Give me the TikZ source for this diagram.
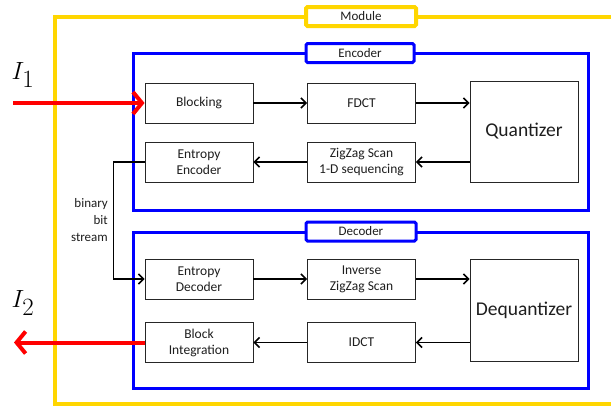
\documentclass[tikz,border=0pt]{standalone}
\usepackage{fontspec}
\setmainfont{Carlito}
\usetikzlibrary{arrows.meta}
\definecolor{modyellow}{RGB}{255,214,0}
\definecolor{encblue}{RGB}{0,0,255}
\definecolor{inred}{RGB}{255,0,0}
\definecolor{txt}{RGB}{30,30,30}
\tikzset{
  blk/.style={draw=black!85, line width=0.9pt, minimum width=108pt, minimum height=40pt, align=center, font=\fontsize{13.5}{16}\selectfont, text=txt, inner sep=0pt},
  bigblk/.style={blk, minimum height=101pt, font=\fontsize{19.5}{21}\selectfont},
  flow/.style={line width=1.6pt, black, -{Straight Barb[length=5pt,width=10pt,line width=1.6pt]}},
  redflow/.style={line width=4pt, inred, -{Straight Barb[length=9pt,width=22pt,line width=4pt]}},
  framebox/.style={line width=3pt, encblue},
  tagbox/.style={fill=white, rounded corners=1.5pt, minimum height=19pt, inner sep=0pt, font=\fontsize{13}{14}\selectfont, text=txt},
  iolabel/.style={font=\fontsize{38}{38}\selectfont, inner sep=0pt}
}
\begin{document}
\begin{tikzpicture}[x=1pt,y=-1pt]
\clip (0,0) rectangle (611,408);
\fill[white] (0,0) rectangle (611,408);
% module frame
\draw[line width=4pt, modyellow] (625,17) -- (55,17) -- (55,404) -- (625,404);
\node[tagbox, draw=modyellow, line width=4pt, minimum width=110pt] (modtag) at (361,16.5) {Module};
% encoder / decoder frames
\draw[framebox] (133,53) rectangle (588,210);
\node[tagbox, draw=encblue, line width=3pt, minimum width=108pt] (enctag) at (360,53) {Encoder};
\draw[framebox] (133,232) rectangle (588,388);
\node[tagbox, draw=encblue, line width=3pt, minimum width=110pt] (dectag) at (361,231.5) {Decoder};
% encoder blocks
\node[blk] (blocking) at (199,103) {Blocking};
\node[blk] (fdct) at (361.5,103) {FDCT};
\node[bigblk] (quant) at (524,131.5) {Quantizer};
\node[blk] (entenc) at (199,162) {Entropy\\Encoder};
\node[blk] (zigzag) at (361.5,162) {ZigZag Scan\\1-D sequencing};
% decoder blocks
\node[blk] (entdec) at (199,279) {Entropy\\Decoder};
\node[blk] (invzz) at (361.5,279) {Inverse\\ZigZag Scan};
\node[bigblk, minimum height=102pt] (dequant) at (524,310) {Dequantizer};
\node[blk] (blkint) at (199,342.5) {Block\\Integration};
\node[blk] (idct) at (361.5,342.5) {IDCT};
% encoder flow
\draw[flow] (blocking.east) -- (fdct.west);
\draw[flow] (fdct.east) -- (quant.west |- fdct.east);
\draw[flow] (quant.west |- zigzag.east) -- (zigzag.east);
\draw[flow] (zigzag.west) -- (entenc.east);
% bit stream
\draw[flow] (entenc.west) -- ++(-31,0) |- (entdec.west);
\node[align=right, anchor=east, font=\fontsize{13}{17}\selectfont, text=txt, inner sep=0pt] (bits) at (108,220) {binary\\bit\\stream};
% decoder flow
\draw[flow] (entdec.east) -- (invzz.west);
\draw[flow] (invzz.east) -- (dequant.west |- invzz.east);
\draw[flow] (dequant.west |- idct.east) -- (idct.east);
\draw[flow] (idct.west) -- (blkint.east);
% input / output
\coordinate (inpt) at (13,103);
\coordinate (outpt) at (14,342.5);
\draw[redflow] (inpt) -- (blocking.west);
\draw[redflow] (blkint.west) -- (outpt);
\node[iolabel] (ione) at (23,75) {$I_1$};
\node[iolabel] (itwo) at (23,303) {$I_2$};
\end{tikzpicture}
\end{document}
